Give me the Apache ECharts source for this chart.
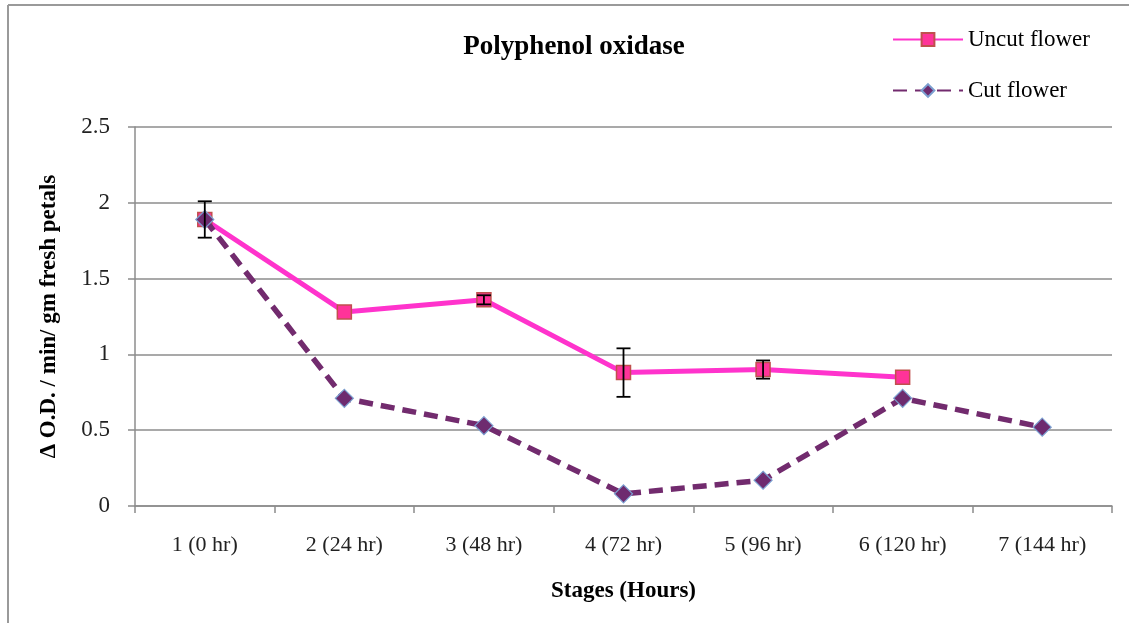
<!DOCTYPE html>
<html>
<head>
<meta charset="utf-8">
<script src="https://cdn.jsdelivr.net/npm/echarts@6/dist/echarts.min.js"></script>
<style>html,body{margin:0;padding:0;background:#fff;}#c{width:1129px;height:623px;}</style>
</head>
<body>
<div id="c"></div>
<script>
const categories = ['1 (0 hr)', '2 (24 hr)', '3 (48 hr)', '4 (72 hr)', '5 (96 hr)', '6 (120 hr)', '7 (144 hr)'];
const uncutValues = [1.89, 1.28, 1.36, 0.88, 0.90, 0.85, null];
const uncutErrors = [0.12, 0, 0.03, 0.16, 0.06, 0, 0];
const cutValues = [1.89, 0.71, 0.53, 0.08, 0.17, 0.71, 0.52];
const yTicks = [0, 0.5, 1, 1.5, 2, 2.5];

const serif = '"Liberation Serif", "DejaVu Serif", serif';
const chart = echarts.init(document.getElementById('c'), null, {renderer: 'canvas'});

const errData = uncutValues.map((v, i) => (v != null && uncutErrors[i] > 0) ? [i, v, uncutErrors[i]] : null).filter(Boolean);

chart.setOption({
  animation: false,
  backgroundColor: '#fff',
  title: {
    text: 'Polyphenol oxidase',
    left: 569, top: 29, textAlign: 'center',
    textStyle: {fontFamily: serif, fontSize: 27, fontWeight: 'bold', color: '#000'}
  },
  legend: {
    orient: 'vertical', left: 887, top: 23, itemGap: 28,
    itemWidth: 70, itemHeight: 16,
    textStyle: {fontFamily: serif, fontSize: 23, color: '#000'},
    data: ['Uncut flower', 'Cut flower']
  },
  grid: {left: 135, right: 17, top: 127, bottom: 117, containLabel: false},
  xAxis: {
    type: 'category', data: categories, boundaryGap: true,
    name: 'Stages (Hours)', nameLocation: 'middle', nameGap: 74,
    nameTextStyle: {fontFamily: serif, fontSize: 23, fontWeight: 'bold', color: '#000'},
    axisLine: {lineStyle: {color: '#8c8c8c', width: 1.5}},
    axisTick: {show: true, length: 7, lineStyle: {color: '#8c8c8c', width: 1.5}, alignWithLabel: false},
    axisLabel: {fontFamily: serif, fontSize: 22, color: '#222', margin: 28},
    splitLine: {show: false}
  },
  yAxis: {
    type: 'value', min: 0, max: 2.5, interval: 0.5,
    name: 'Δ O.D. / min/ gm fresh petals', nameLocation: 'middle', nameGap: 74,
    nameTextStyle: {fontFamily: serif, fontSize: 23, fontWeight: 'bold', color: '#000'},
    axisLine: {show: true, lineStyle: {color: '#8c8c8c', width: 1.5}},
    axisTick: {show: true, length: 7, inside: false, lineStyle: {color: '#8c8c8c', width: 1.5}},
    axisLabel: {fontFamily: serif, fontSize: 23, color: '#222', margin: 25,
      formatter: v => yTicks.includes(v) ? String(v) : ''},
    splitLine: {lineStyle: {color: '#8c8c8c', width: 1.5}}
  },
  graphic: [
    {type: 'line', shape: {x1: 8, y1: 5, x2: 1129, y2: 5}, style: {stroke: '#9a9a9a', lineWidth: 2}, silent: true},
    {type: 'line', shape: {x1: 8, y1: 5, x2: 8, y2: 623}, style: {stroke: '#9a9a9a', lineWidth: 2}, silent: true}
  ],
  series: [
    {
      name: 'Uncut flower', type: 'line', data: uncutValues,
      symbol: 'rect', symbolSize: 14, connectNulls: false,
      lineStyle: {color: '#ff33cc', width: 5},
      itemStyle: {color: '#ff3399', borderColor: '#c0504d', borderWidth: 1.5},
      z: 3
    },
    {
      name: 'Cut flower', type: 'line', data: cutValues,
      symbol: 'diamond', symbolSize: 18,
      lineStyle: {color: '#722b6e', width: 5.5, type: [14, 8]},
      itemStyle: {color: '#6e2b6f', borderColor: '#7b9fd0', borderWidth: 1.2},
      z: 4
    },
    {
      name: 'err', type: 'custom', data: errData, z: 10,
      encode: {x: 0, y: 1},
      renderItem: function (params, api) {
        const i = api.value(0), v = api.value(1), e = api.value(2);
        const top = api.coord([i, v + e]);
        const bot = api.coord([i, v - e]);
        const hw = 7;
        const st = {stroke: '#000', lineWidth: 1.8};
        return {type: 'group', children: [
          {type: 'line', shape: {x1: top[0], y1: top[1], x2: bot[0], y2: bot[1]}, style: st},
          {type: 'line', shape: {x1: top[0]-hw, y1: top[1], x2: top[0]+hw, y2: top[1]}, style: st},
          {type: 'line', shape: {x1: bot[0]-hw, y1: bot[1], x2: bot[0]+hw, y2: bot[1]}, style: st}
        ]};
      }
    }
  ]
});
</script>
</body>
</html>
